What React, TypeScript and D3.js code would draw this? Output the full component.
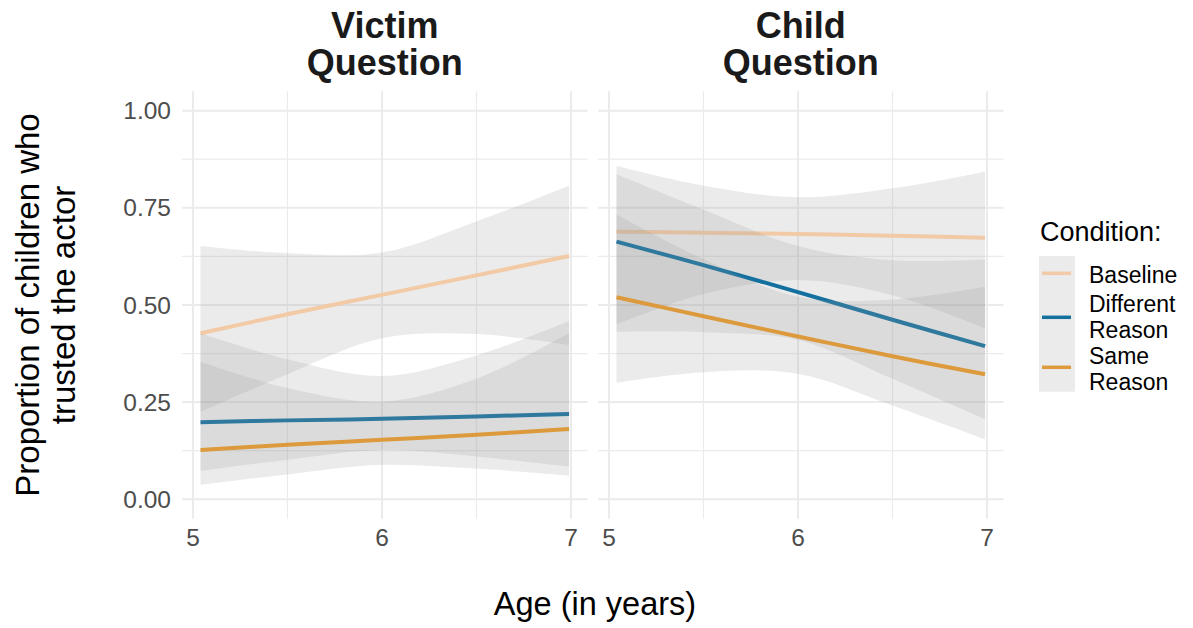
import React from 'react';
import * as d3 from 'd3';

const ages = [5.04, 5.5, 6, 6.5, 6.99];

const conditions = ['Baseline', 'Different Reason', 'Same Reason'];
const conditionColors = ['#f2caa6', '#14709f', '#dd9a3c'];
const legendLines = [['Baseline'], ['Different', 'Reason'], ['Same', 'Reason']];

// Victim Question panel
const baselineVictimFit = [0.427, 0.476, 0.526, 0.576, 0.626];
const baselineVictimLo = [0.225, 0.322, 0.414, 0.425, 0.397];
const baselineVictimHi = [0.652, 0.633, 0.635, 0.715, 0.807];
const differentVictimFit = [0.198, 0.203, 0.207, 0.213, 0.2195];
const differentVictimLo = [0.073, 0.102, 0.127, 0.11, 0.084];
const differentVictimHi = [0.427, 0.36, 0.317, 0.37, 0.459];
const sameVictimFit = [0.127, 0.14, 0.153, 0.166, 0.181];
const sameVictimLo = [0.037, 0.064, 0.0886, 0.079, 0.061];
const sameVictimHi = [0.354, 0.286, 0.251, 0.31, 0.427];

// Child Question panel
const baselineChildFit = [0.6885, 0.686, 0.6825, 0.678, 0.673];
const baselineChildLo = [0.45, 0.528, 0.564, 0.525, 0.44];
const baselineChildHi = [0.8575, 0.807, 0.777, 0.8, 0.843];
const differentChildFit = [0.663, 0.6025, 0.533, 0.462, 0.394];
const differentChildLo = [0.431, 0.43, 0.41, 0.31, 0.206];
const differentChildHi = [0.836, 0.745, 0.652, 0.615, 0.617];
const sameChildFit = [0.52, 0.471, 0.419, 0.368, 0.3215];
const sameChildLo = [0.3, 0.327, 0.323, 0.241, 0.154];
const sameChildHi = [0.733, 0.618, 0.521, 0.514, 0.547];

const yTicks = [0, 0.25, 0.5, 0.75, 1];
const yMinor = [0.125, 0.375, 0.625, 0.875];
const xTicks = [5, 6, 7];
const xMinor = [5.5, 6.5];

const facets = [
  {
    title: ['Victim', 'Question'],
    fits: [baselineVictimFit, differentVictimFit, sameVictimFit],
    lows: [baselineVictimLo, differentVictimLo, sameVictimLo],
    highs: [baselineVictimHi, differentVictimHi, sameVictimHi],
  },
  {
    title: ['Child', 'Question'],
    fits: [baselineChildFit, differentChildFit, sameChildFit],
    lows: [baselineChildLo, differentChildLo, sameChildLo],
    highs: [baselineChildHi, differentChildHi, sameChildHi],
  },
];

const FONT = '"Liberation Sans", Arial, Helvetica, sans-serif';
const W = 1193;
const H = 628;
const panelLeft = [182.1, 598.1];
const panelWidth = 405.4;
const xDomain: [number, number] = [4.9425, 7.0875];

const y = d3.scaleLinear().domain([-0.05, 1.05]).range([518.7, 91.2]);

// legend key centres and label row centres
const keyCentres = [273.3, 317.3, 367.3];
const labelCentres = [[274.5], [304, 330], [356, 382]];

const App: React.FC = () => {
  const fmt = d3.format('.2f');

  return (
    <svg
      width={W}
      height={H}
      style={{ position: 'absolute', left: 0, top: 0, background: '#fff' }}
      fontFamily={FONT}
    >
      {facets.map((f, pi) => {
        const x0 = panelLeft[pi];
        const x = d3.scaleLinear().domain(xDomain).range([x0, x0 + panelWidth]);
        const [r0, r1] = x.range();
        const [yb, yt] = y.range();

        const area = d3
          .area<number>()
          .x((_, i) => x(ages[i]))
          .curve(d3.curveCatmullRom);
        const line = d3
          .line<number>()
          .x((_, i) => x(ages[i]))
          .y((d) => y(d))
          .curve(d3.curveCatmullRom);

        return (
          <g key={pi}>
            {/* grid */}
            {yMinor.map((t) => (
              <line key={'ym' + t} x1={r0} x2={r1} y1={y(t)} y2={y(t)} stroke="#ebebeb" strokeWidth={1.2} />
            ))}
            {xMinor.map((t) => (
              <line key={'xm' + t} x1={x(t)} x2={x(t)} y1={yb} y2={yt} stroke="#ebebeb" strokeWidth={1.2} />
            ))}
            {yTicks.map((t) => (
              <line key={'y' + t} x1={r0} x2={r1} y1={y(t)} y2={y(t)} stroke="#ebebeb" strokeWidth={2} />
            ))}
            {xTicks.map((t) => (
              <line key={'x' + t} x1={x(t)} x2={x(t)} y1={yb} y2={yt} stroke="#ebebeb" strokeWidth={2} />
            ))}

            {/* ribbons and lines, drawn per group like geom_smooth */}
            {conditions.map((c, ci) => {
              const lo = f.lows[ci];
              const hi = f.highs[ci];
              const a = area.y0((_, i) => y(lo[i])).y1((_, i) => y(hi[i]));
              return (
                <g key={c}>
                  <path d={a(lo) || ''} fill="#999999" fillOpacity={0.2} />
                  <path
                    d={line(f.fits[ci]) || ''}
                    fill="none"
                    stroke={conditionColors[ci]}
                    strokeWidth={4}
                  />
                </g>
              );
            })}

            {/* x tick labels */}
            {xTicks.map((t) => (
              <text key={'xl' + t} x={x(t)} y={546} textAnchor="middle" fontSize={24.5} fill="#4d4d4d">
                {t}
              </text>
            ))}

            {/* strip title */}
            <text x={(r0 + r1) / 2} textAnchor="middle" fontSize={36} fontWeight="bold" fill="#1a1a1a">
              <tspan x={(r0 + r1) / 2} y={37.5}>{f.title[0]}</tspan>
              <tspan x={(r0 + r1) / 2} y={75}>{f.title[1]}</tspan>
            </text>
          </g>
        );
      })}

      {/* y tick labels */}
      {yTicks.map((t) => (
        <text key={'yl' + t} x={171} y={y(t) + 8.7} textAnchor="end" fontSize={24.5} fill="#4d4d4d">
          {fmt(t)}
        </text>
      ))}

      {/* axis titles */}
      <text x={595} y={615} textAnchor="middle" fontSize={32.5} fill="#000">
        Age (in years)
      </text>
      <text transform="translate(39,305) rotate(-90)" textAnchor="middle" fontSize={33} fill="#000">
        <tspan x={0} y={0}>Proportion of children who</tspan>
        <tspan x={0} y={36}>trusted the actor</tspan>
      </text>

      {/* legend */}
      <text x={1040} y={241} fontSize={27} fill="#000">
        Condition:
      </text>
      <rect x={1039} y={256} width={36} height={135.7} fill="#ebebeb" />
      {keyCentres.map((ly, i) => (
        <line key={'lk' + i} x1={1042} x2={1071} y1={ly} y2={ly} stroke={conditionColors[i]} strokeWidth={3.5} />
      ))}
      <g fontSize={23} fill="#000">
        {legendLines.map((rows, i) =>
          rows.map((r, j) => (
            <text key={i + '-' + j} x={1089} y={labelCentres[i][j] + 8.3}>
              {r}
            </text>
          ))
        )}
      </g>
    </svg>
  );
};

export default App;
